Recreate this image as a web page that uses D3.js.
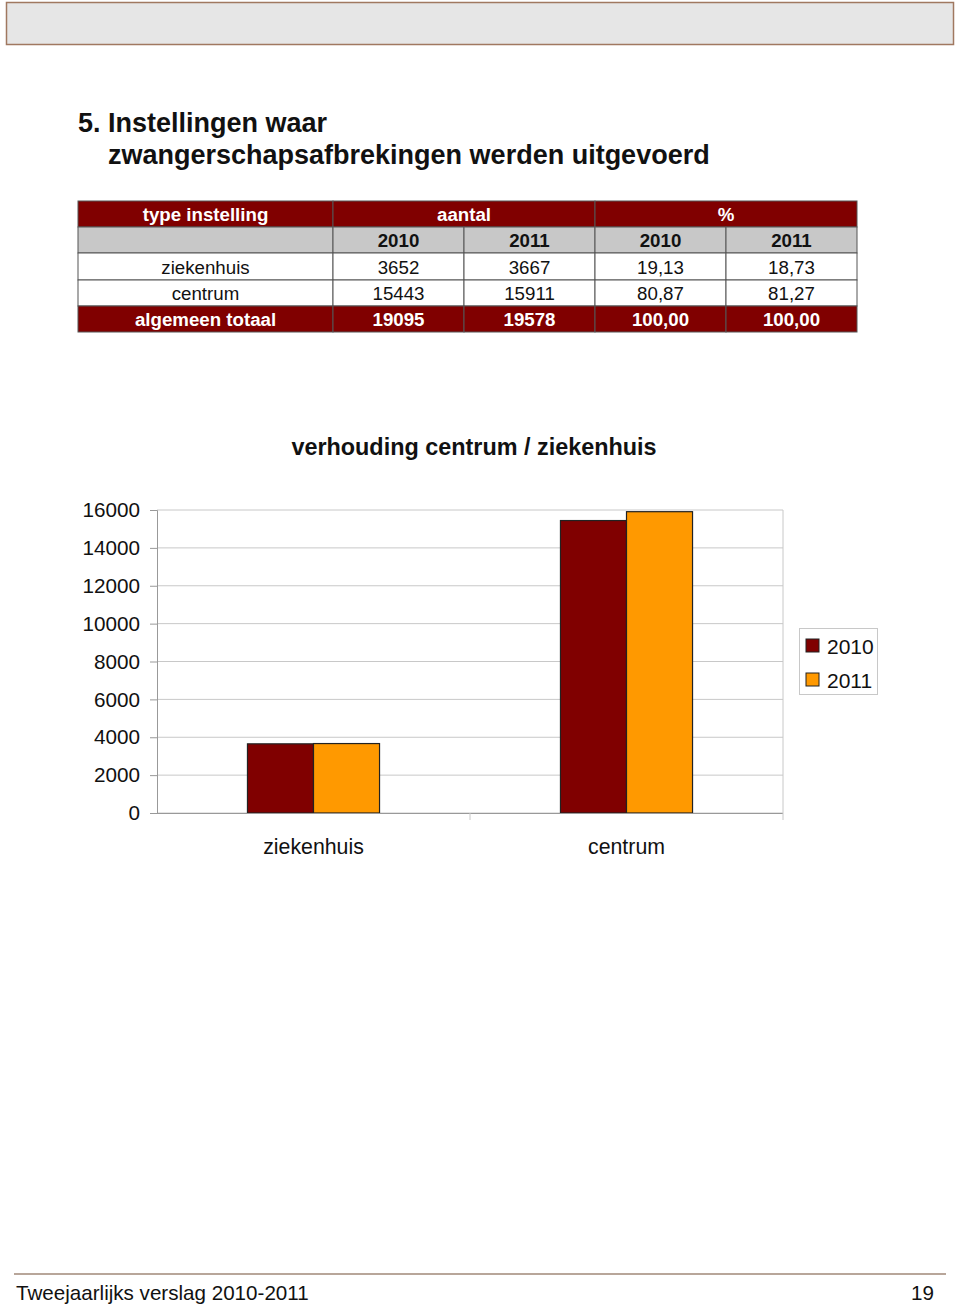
<!DOCTYPE html>
<html><head><meta charset="utf-8">
<script src="https://cdn.jsdelivr.net/npm/d3@7"></script>
<style>
body{margin:0;background:#fff;}
svg{display:block;font-family:"Liberation Sans",Arial,sans-serif;}
</style></head>
<body>
<svg id="c" width="960" height="1305"></svg>
<script>
const categories = ["ziekenhuis", "centrum"];
const years = ["2010", "2011"];
const values2010 = [3652, 15443];
const values2011 = [3667, 15911];
const pct2010 = ["19,13", "80,87"];
const pct2011 = ["18,73", "81,27"];
const totals = ["19095", "19578", "100,00", "100,00"];
const yTicks = [0, 2000, 4000, 6000, 8000, 10000, 12000, 14000, 16000];
const colors = ["#800000", "#ff9900"];

const svg = d3.select("#c");

// header box
svg.append("rect").attr("x",6.5).attr("y",2.5).attr("width",947).attr("height",42)
  .attr("fill","#e6e6e6").attr("stroke","#a07860").attr("stroke-width",1.5);

// title
svg.append("text").attr("x",78).attr("y",132).attr("font-size",27).attr("font-weight","bold")
  .attr("fill","#111").text("5. Instellingen waar");
svg.append("text").attr("x",108).attr("y",164).attr("font-size",27).attr("font-weight","bold")
  .attr("fill","#111").text("zwangerschapsafbrekingen werden uitgevoerd");

// table
const colX = [78, 333, 464, 595, 726, 857];
const rowY = [201, 227, 253, 280, 306, 332];
const tbl = svg.append("g");
const rows = [
  {fill:"#800000", color:"#fff", bold:true, cells:[{t:"type instelling",c0:0,c1:1},{t:"aantal",c0:1,c1:3},{t:"%",c0:3,c1:5}]},
  {fill:"#c8c8c8", color:"#111", bold:true, cells:[{t:"",c0:0,c1:1},{t:years[0],c0:1,c1:2},{t:years[1],c0:2,c1:3},{t:years[0],c0:3,c1:4},{t:years[1],c0:4,c1:5}]},
  {fill:"#fff", color:"#111", bold:false, cells:[{t:categories[0],c0:0,c1:1},{t:String(values2010[0]),c0:1,c1:2},{t:String(values2011[0]),c0:2,c1:3},{t:pct2010[0],c0:3,c1:4},{t:pct2011[0],c0:4,c1:5}]},
  {fill:"#fff", color:"#111", bold:false, cells:[{t:categories[1],c0:0,c1:1},{t:String(values2010[1]),c0:1,c1:2},{t:String(values2011[1]),c0:2,c1:3},{t:pct2010[1],c0:3,c1:4},{t:pct2011[1],c0:4,c1:5}]},
  {fill:"#800000", color:"#fff", bold:true, cells:[{t:"algemeen totaal",c0:0,c1:1},{t:totals[0],c0:1,c1:2},{t:totals[1],c0:2,c1:3},{t:totals[2],c0:3,c1:4},{t:totals[3],c0:4,c1:5}]}
];
rows.forEach((r,i)=>{
  r.cells.forEach(c=>{
    const x0=colX[c.c0], x1=colX[c.c1], y0=rowY[i], y1=rowY[i+1];
    tbl.append("rect").attr("x",x0).attr("y",y0).attr("width",x1-x0).attr("height",y1-y0)
      .attr("fill",r.fill).attr("stroke","#555").attr("stroke-width",1);
    tbl.append("text").attr("x",(x0+x1)/2).attr("y",(y0+y1)/2+7).attr("text-anchor","middle")
      .attr("font-size",18.7).attr("font-weight",r.bold?"bold":"normal").attr("fill",r.color).text(c.t);
  });
});

// chart title
svg.append("text").attr("x",474).attr("y",455).attr("text-anchor","middle").attr("font-size",23.4)
  .attr("font-weight","bold").attr("fill","#111").text("verhouding centrum / ziekenhuis");

// chart
const x0 = d3.scaleBand().domain(categories).range([157,783]).paddingInner(0).paddingOuter(0);
const x1 = d3.scaleBand().domain(years).range([0,x0.bandwidth()]).paddingInner(0).paddingOuter(1.37);
const y = d3.scaleLinear().domain([0,16000]).range([813,510]);

const g = svg.append("g");
// grid
g.selectAll(".grid").data(yTicks).join("line")
  .attr("x1",157).attr("x2",783).attr("y1",d=>y(d)).attr("y2",d=>y(d))
  .attr("stroke","#c8c8c8").attr("stroke-width",1);
// right border
g.append("line").attr("x1",783).attr("x2",783).attr("y1",510).attr("y2",813).attr("stroke","#c8c8c8");

// y axis
const yAx = g.append("g").attr("transform","translate(157,0)")
  .call(d3.axisLeft(y).tickValues(yTicks).tickSize(7).tickPadding(10).tickFormat(d3.format("d")));
yAx.select(".domain").attr("stroke","#999");
yAx.selectAll(".tick line").attr("stroke","#999");
yAx.selectAll("text").attr("font-size",20.7).attr("fill","#111").attr("font-family","Liberation Sans, Arial, sans-serif");

// bars
const data = categories.map((c,i)=>({cat:c, vals:[values2010[i], values2011[i]]}));
const grp = g.selectAll(".cat").data(data).join("g").attr("transform",d=>`translate(${x0(d.cat)},0)`);
grp.selectAll("rect").data(d=>d.vals.map((v,j)=>({year:years[j],v,j}))).join("rect")
  .attr("x",d=>x1(d.year)).attr("width",x1.bandwidth())
  .attr("y",d=>y(d.v)).attr("height",d=>y(0)-y(d.v))
  .attr("fill",d=>colors[d.j]).attr("stroke","#222").attr("stroke-width",1.2);

// x axis
const xAx = g.append("g").attr("transform","translate(0,813)")
  .call(d3.axisBottom(x0).tickSize(0).tickPadding(26));
xAx.select(".domain").attr("stroke","#999").attr("d","M150,0.5H783");
xAx.selectAll("text").attr("font-size",21.3).attr("fill","#111").attr("font-family","Liberation Sans, Arial, sans-serif");
g.selectAll(".xsep").data([x0.range()[0]+x0.bandwidth(), 783]).join("line")
  .attr("x1",d=>d).attr("x2",d=>d).attr("y1",813).attr("y2",820).attr("stroke","#c8c8c8");

// legend
const lg = svg.append("g");
lg.append("rect").attr("x",799.5).attr("y",628.5).attr("width",78).attr("height",66)
  .attr("fill","#fff").attr("stroke","#c8c8c8");
years.forEach((yr,i)=>{
  lg.append("rect").attr("x",806).attr("y",639+i*34).attr("width",13).attr("height",13)
    .attr("fill",colors[i]).attr("stroke","#222").attr("stroke-width",1);
  lg.append("text").attr("x",827).attr("y",654+i*34).attr("font-size",21).attr("fill","#111").text(yr);
});

// footer
svg.append("line").attr("x1",14).attr("x2",946).attr("y1",1274).attr("y2",1274)
  .attr("stroke","#a08878").attr("stroke-width",1.5);
svg.append("text").attr("x",16).attr("y",1300).attr("font-size",20.6).attr("fill","#111").text("Tweejaarlijks verslag 2010-2011");
svg.append("text").attr("x",934).attr("y",1300).attr("text-anchor","end").attr("font-size",20.6).attr("fill","#111").text("19");
</script>
</body></html>
